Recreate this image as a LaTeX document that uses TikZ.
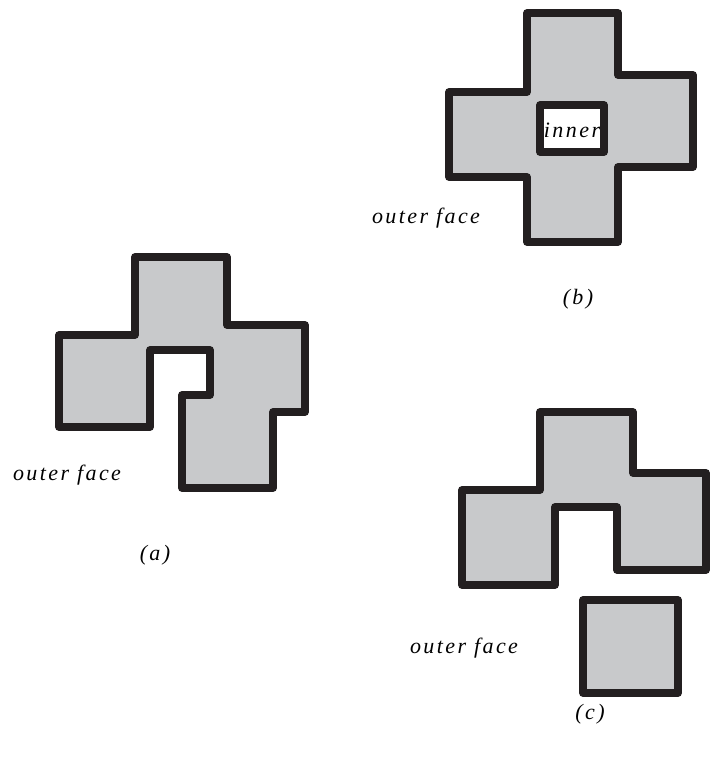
\documentclass[tikz,border=0pt]{standalone}
\usepackage{fontspec}
\setmainfont{Liberation Serif}
\newfontfamily\faceFont[LetterSpace=11]{Liberation Serif}
\usepackage{tikz}
\usetikzlibrary{positioning}
\definecolor{faceGray}{RGB}{200,201,203}
\definecolor{edgeBlack}{RGB}{35,31,32}

\begin{document}
\begin{tikzpicture}[x=1pt, y=-1pt, face/.style = {draw=edgeBlack, fill=faceGray, line width=7.5pt, line join=round}, hole/.style = {draw=edgeBlack, fill=white, line width=7.5pt, line join=round}, label/.style = {font=\faceFont\itshape\fontsize{22}{24}\selectfont, inner sep=0pt}]
            \useasboundingbox (0,0) rectangle (712,760);

            % (a) one face with a notch
            \draw [face] (135,257) -- (227,257) -- (227,325) -- (305,325) -- (305,412) -- (273,412) -- (273,488)
            -- (182,488) -- (182,395) -- (210,395) -- (210,350) -- (150,350) -- (150,427) -- (59,427) -- (59,335) -- (135,335) -- cycle;
            \coordinate (figA) at (155,488);
            \node [label] (outerA) at (67,475) {outer face};
            \node [label, below=57pt of figA] (capA) {(\textit{a})};

            % (b) cross with a hole
            \draw [face] (527,13) -- (618,13) -- (618,75) -- (693,75) -- (693,167) -- (618,167) -- (618,242)
            -- (527,242) -- (527,177) -- (449,177) -- (449,92) -- (527,92) -- cycle;
            \draw [hole] (540,105) rectangle (604,152);
            \coordinate (figB) at (578,242);
            \node [label] (innerB) at (572,130) {inner};
            \node [label] (outerB) at (426,218) {outer face};
            \node [label, below=47pt of figB] (capB) {(\textit{b})};

            % (c) two separate pieces
            \draw [face] (540,412) -- (633,412) -- (633,473) -- (706,473) -- (706,570) -- (617,570) -- (617,507)
            -- (555,507) -- (555,585) -- (462,585) -- (462,490) -- (540,490) -- cycle;
            \draw [face] (583,600) rectangle (678,693);
            \coordinate (figC) at (590,693);
            \node [label, below=11pt of figC] (capC) {(\textit{c})};
            \node [label] (outerC) at (464,648) {outer face};
        \end{tikzpicture}
\end{document}
